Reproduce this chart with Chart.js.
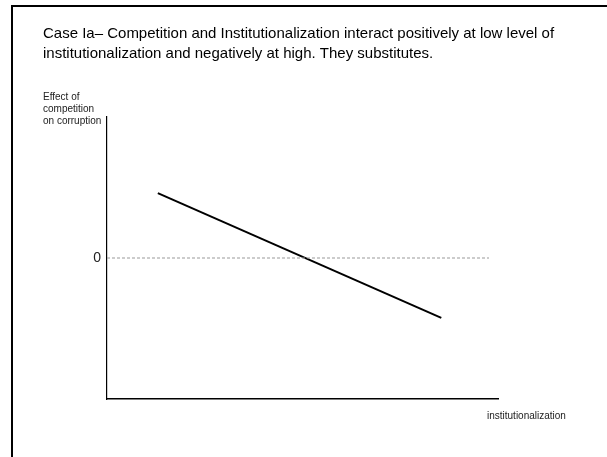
<!DOCTYPE html>
<html>
<head>
<meta charset="utf-8">
<script src="https://cdn.jsdelivr.net/npm/chart.js@4.4.1/dist/chart.umd.min.js"></script>
<style>
  html, body { margin: 0; padding: 0; background: #fff; }
  #wrap { position: relative; width: 607px; height: 457px; overflow: hidden; }
  #frame { position: absolute; left: 11px; top: 5px; width: 700px; height: 600px;
           border-left: 2px solid #000; border-top: 2px solid #000; }
  canvas { position: absolute; left: 0; top: 0; }
</style>
</head>
<body>
<div id="wrap">
  <div id="frame"></div>
  <canvas id="c" width="607" height="457"></canvas>
</div>
<script>
// ---- data ----
const titleLines = [
  "Case Ia\u2013 Competition and Institutionalization interact positively at low level of",
  "institutionalization and negatively at high. They substitutes."
];
const yAxisTitleLines = ["Effect of", "competition", "on corruption"];
const xAxisTitle = "institutionalization";
const yTickValues = [0];
const effectX = [1.3, 8.55];
const effectY = [0.46, -0.425];
const zeroLineX = [0, 9.77];
const zeroLineY = [0, 0];

const FONT = "'Liberation Sans', Arial, sans-serif";

const textPlugin = {
  id: 'texts',
  afterDraw(chart) {
    const ctx = chart.ctx;
    const area = chart.chartArea;
    ctx.save();
    ctx.fillStyle = '#000';
    ctx.textBaseline = 'middle';
    ctx.textAlign = 'left';
    ctx.font = '15px ' + FONT;
    titleLines.forEach((t, i) => ctx.fillText(t, 43, 34 + i * 20));
    ctx.fillStyle = '#222';
    ctx.font = '10px ' + FONT;
    yAxisTitleLines.forEach((t, i) => ctx.fillText(t, 43, area.top - 20 + i * 12));
    ctx.fillText(xAxisTitle, area.right - 11, area.bottom + 17);
    ctx.restore();
  }
};

new Chart(document.getElementById('c'), {
  type: 'scatter',
  data: {
    datasets: [
      {
        label: 'zero',
        data: zeroLineX.map((x, i) => ({ x, y: zeroLineY[i] })),
        showLine: true,
        borderColor: '#999',
        borderWidth: 1,
        borderDash: [3, 2],
        pointRadius: 0
      },
      {
        label: 'effect',
        data: effectX.map((x, i) => ({ x, y: effectY[i] })),
        showLine: true,
        borderColor: '#000',
        borderWidth: 2,
        pointRadius: 0
      }
    ]
  },
  options: {
    responsive: false,
    animation: false,
    events: [],
    layout: { padding: { left: 67, right: 109, top: 117, bottom: 58 } },
    plugins: { legend: { display: false }, tooltip: { enabled: false }, title: { display: false } },
    scales: {
      x: {
        type: 'linear', min: 0, max: 10,
        grid: { display: false, drawTicks: false },
        ticks: { display: false },
        border: { display: true, color: '#000', width: 1.5 },
        afterFit(s) { s.height = 0; }
      },
      y: {
        type: 'linear', min: -1, max: 1,
        grid: { display: false, drawTicks: false },
        border: { display: true, color: '#000', width: 1.2 },
        afterBuildTicks(s) { s.ticks = yTickValues.map(v => ({ value: v })); },
        ticks: { color: '#222', padding: 6, font: { family: FONT, size: 14 }, callback: v => String(v) },
        afterFit(s) { s.width = 40; }
      }
    }
  },
  plugins: [textPlugin]
});
</script>
</body>
</html>
